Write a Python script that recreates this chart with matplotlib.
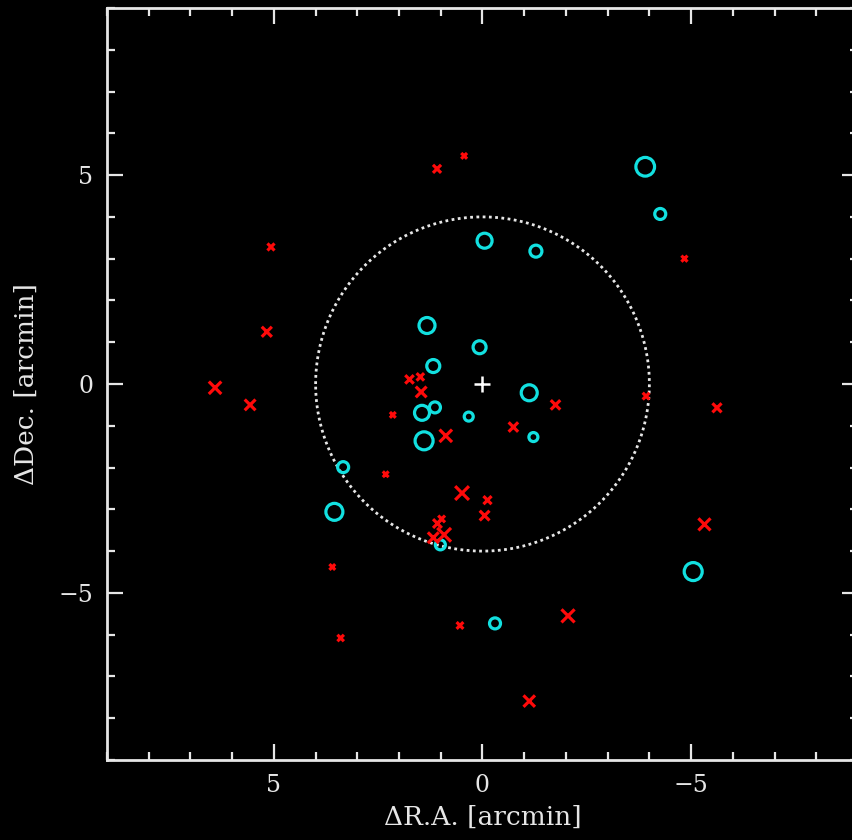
import matplotlib
matplotlib.use("Agg")
import matplotlib.pyplot as plt
from matplotlib.ticker import MultipleLocator
import numpy as np

# offsets in arcmin (R.A. increases to the left)
circle_ra = [-3.90, -4.26, -0.05, -1.28, 1.33, 0.07, 1.18, -1.12, 1.14, 1.45,
             0.33, -1.22, 1.40, 3.34, 3.55, 1.01, -5.05, -0.30]
circle_dec = [5.20, 4.07, 3.43, 3.18, 1.40, 0.88, 0.43, -0.21, -0.56, -0.69,
              -0.78, -1.27, -1.36, -1.99, -3.06, -3.85, -4.49, -5.73]
# outer diameter of each ring in pixels
circle_diam = [20.7, 13, 17, 14, 18, 15, 15, 18, 13, 17,
               11, 11, 20, 13, 19, 12, 20, 13]

cross_ra = [0.44, 1.09, 5.07, -4.84, 5.17, 6.41, 5.57, 1.75, 1.49, 1.47,
            2.15, -1.75, -0.74, 0.88, -3.92, -5.62, 2.32, 0.49, -0.12, -0.05,
            0.98, 1.08, 0.92, 1.18, -5.32, 3.60, -2.05, 0.54, 3.40, -1.12]
cross_dec = [5.46, 5.15, 3.28, 3.00, 1.25, -0.09, -0.50, 0.11, 0.17, -0.19,
             -0.74, -0.50, -1.03, -1.24, -0.29, -0.57, -2.16, -2.61, -2.78, -3.15,
             -3.23, -3.34, -3.61, -3.68, -3.36, -4.38, -5.55, -5.78, -6.08, -7.59]
# full width of each cross in pixels
cross_width = [7, 9.3, 8.3, 7.3, 11.3, 13.7, 12, 9.7, 8.7, 12,
               7, 10.7, 10.7, 13.7, 8, 10.3, 7, 15, 9.3, 11,
               8, 10, 15, 12, 13.3, 7, 14.3, 8, 7.7, 12.7]

RADIUS = 4.0
LIMIT = 9
DPI = 100
PX = 72.0 / DPI  # points per pixel

FG = "#e6e6e6"
CYAN = "#12e0e0"
RED = "#ff0a0a"

plt.rcParams["font.family"] = ["DejaVu Serif"]

fig = plt.figure(figsize=(8.53, 8.40), dpi=DPI, facecolor="black")
ax = fig.add_axes([107 / 853, 80 / 840, 751 / 853, 752 / 840])
ax.set_facecolor("black")

ring_pt = (np.array(circle_diam) - 2.0) * PX
ax.scatter(circle_ra, circle_dec, s=ring_pt ** 2, marker="o",
           facecolors="none", edgecolors=CYAN, linewidths=2.3, zorder=3)

cross_pt = (np.array(cross_width) - 1.2) * PX
ax.scatter(cross_ra, cross_dec, s=cross_pt ** 2, marker="x",
           color=RED, linewidths=2.3, zorder=4)

# field centre
ax.plot([0], [0], marker="+", ms=12, mew=1.8, color="white", zorder=5)

t = np.linspace(0, 2 * np.pi, 721)
ax.plot(RADIUS * np.cos(t), RADIUS * np.sin(t), color=FG, lw=2.0,
        linestyle=(0, (1, 1.25)), zorder=2)

ax.set_xlim(LIMIT, -LIMIT)
ax.set_ylim(-LIMIT, LIMIT)

for side in ax.spines.values():
    side.set_color(FG)
    side.set_linewidth(2.0)

ax.xaxis.set_major_locator(MultipleLocator(5))
ax.yaxis.set_major_locator(MultipleLocator(5))
ax.xaxis.set_minor_locator(MultipleLocator(1))
ax.yaxis.set_minor_locator(MultipleLocator(1))
ax.tick_params(which="both", direction="in", top=True, right=True,
               color=FG, labelcolor=FG, labelsize=17)
ax.tick_params(which="major", length=11.5, width=1.6, pad=10)
ax.tick_params(which="minor", length=6, width=1.6)

ax.set_xlabel("\u0394R.A. [arcmin]", color=FG, fontsize=19, labelpad=6)
ax.set_ylabel("\u0394Dec. [arcmin]", color=FG, fontsize=19, labelpad=14)

fig.savefig("out.png", dpi=DPI, facecolor="black")
